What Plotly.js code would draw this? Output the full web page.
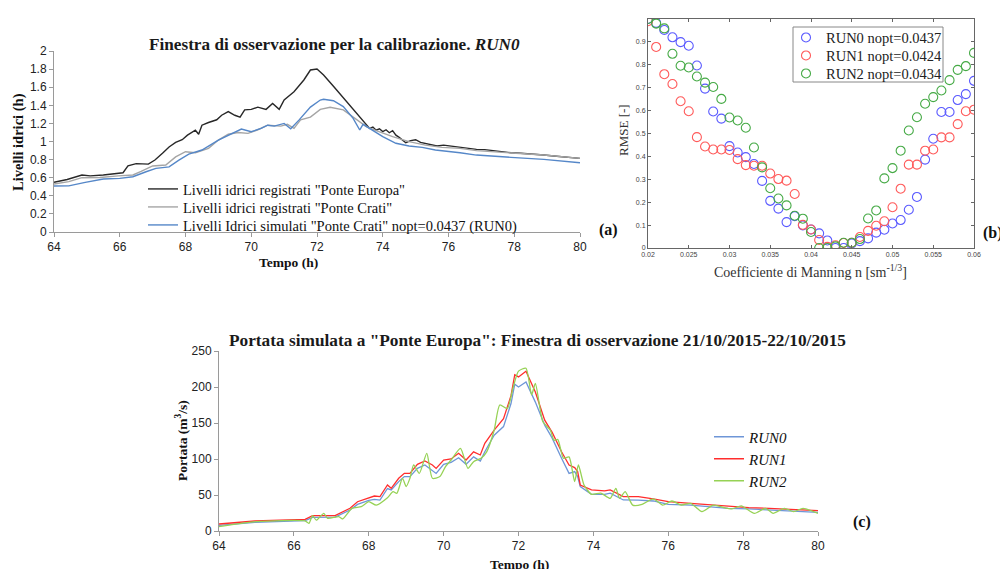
<!DOCTYPE html>
<html>
<head>
<meta charset="utf-8">
<script src="https://cdn.plot.ly/plotly-3.0.1.min.js"></script>
<style>html,body{margin:0;padding:0;background:#fff;}#chart{width:1000px;height:569px;}</style>
</head>
<body>
<div id="chart"></div>
<script>
// ---------- Panel (a): water levels ----------
const europaT = [64, 64.4, 64.85, 65.1, 65.5, 66.0, 66.1, 66.25, 66.5, 66.87, 67.07, 67.3, 67.5, 67.7, 67.9, 68.06, 68.3, 68.4, 68.5, 68.7, 68.95, 69.1, 69.3, 69.5, 69.66, 69.8, 70.0, 70.2, 70.45, 70.65, 70.85, 71.0, 71.3, 71.6, 71.8, 72.0, 72.2, 72.5, 72.8, 73.1, 73.4, 73.6, 73.7, 73.8, 73.9, 74.0, 74.1, 74.2, 74.3, 74.4, 74.5, 74.7, 74.85, 75.0, 75.15, 75.3, 75.5, 75.65, 75.85, 76.05, 76.35, 76.6, 76.85, 77.1, 77.35, 77.6, 77.9, 78.2, 78.4, 78.7, 78.9, 79.2, 79.4, 79.7, 80];
const europaV = [0.55, 0.58, 0.63, 0.62, 0.63, 0.65, 0.655, 0.73, 0.755, 0.75, 0.795, 0.87, 0.94, 0.99, 1.02, 1.07, 1.125, 1.08, 1.18, 1.21, 1.24, 1.29, 1.33, 1.29, 1.27, 1.35, 1.355, 1.38, 1.355, 1.42, 1.355, 1.46, 1.55, 1.68, 1.79, 1.80, 1.735, 1.61, 1.48, 1.35, 1.22, 1.145, 1.16, 1.125, 1.14, 1.11, 1.13, 1.097, 1.12, 1.07, 1.045, 0.987, 1.01, 1.02, 0.99, 0.98, 0.965, 0.95, 0.96, 0.95, 0.935, 0.925, 0.913, 0.91, 0.899, 0.89, 0.876, 0.87, 0.862, 0.855, 0.85, 0.84, 0.833, 0.825, 0.814];
const cratiT = [64, 64.45, 64.85, 65.4, 65.95, 66.4, 66.65, 67.0, 67.4, 67.7, 68.0, 68.3, 68.7, 69.0, 69.3, 69.6, 69.9, 70.2, 70.5, 70.9, 71.1, 71.3, 71.5, 71.8, 72.1, 72.4, 72.8, 73.2, 73.5, 73.8, 74.3, 74.8, 75.3, 75.8, 76.35, 76.85, 77.35, 77.9, 78.9, 80];
const cratiV = [0.53, 0.556, 0.60, 0.603, 0.62, 0.63, 0.67, 0.73, 0.74, 0.83, 0.887, 0.876, 0.924, 1.016, 1.08, 1.10, 1.09, 1.13, 1.18, 1.17, 1.19, 1.145, 1.24, 1.27, 1.355, 1.378, 1.35, 1.24, 1.164, 1.12, 1.053, 0.998, 0.96, 0.935, 0.924, 0.899, 0.887, 0.869, 0.85, 0.814];
const simT = [64, 64.45, 64.95, 65.5, 66.0, 66.4, 66.8, 67.1, 67.5, 67.8, 68.1, 68.5, 69.0, 69.4, 69.7, 70.0, 70.3, 70.5, 70.7, 71.0, 71.2, 71.45, 71.8, 72.1, 72.2, 72.5, 72.8, 73.1, 73.3, 73.4, 73.7, 74.0, 74.4, 74.8, 75.2, 75.6, 76.35, 76.85, 77.9, 78.9, 80];
const simV = [0.508, 0.51, 0.549, 0.585, 0.593, 0.611, 0.666, 0.703, 0.72, 0.795, 0.86, 0.906, 1.016, 1.09, 1.138, 1.108, 1.145, 1.18, 1.17, 1.2, 1.141, 1.236, 1.38, 1.458, 1.466, 1.45, 1.385, 1.256, 1.127, 1.19, 1.12, 1.053, 0.98, 0.95, 0.935, 0.906, 0.876, 0.85, 0.825, 0.803, 0.766];
const levelNames = ['Livelli idrici registrati "Ponte Europa"', 'Livelli idrici registrati "Ponte Crati"', 'Livelli Idrici simulati "Ponte Crati" nopt=0.0437 (RUN0)'];

// ---------- Panel (b): RMSE vs Manning ----------
const manningN = [0.020, 0.021, 0.022, 0.023, 0.024, 0.025, 0.026, 0.027, 0.028, 0.029, 0.030, 0.031, 0.032, 0.033, 0.034, 0.035, 0.036, 0.037, 0.038, 0.039, 0.040, 0.041, 0.042, 0.043, 0.044, 0.045, 0.046, 0.047, 0.048, 0.049, 0.050, 0.051, 0.052, 0.053, 0.054, 0.055, 0.056, 0.057, 0.058, 0.059, 0.060];
const rmseRun0 = [1.0, 0.983, 0.952, 0.92, 0.899, 0.883, 0.797, 0.696, 0.596, 0.565, 0.445, 0.417, 0.397, 0.367, 0.293, 0.206, 0.172, 0.113, 0.139, 0.099, 0.081, 0.064, 0.033, 0.0, 0.0, 0.02, 0.03, 0.042, 0.067, 0.08, 0.107, 0.122, 0.167, 0.223, 0.386, 0.477, 0.594, 0.594, 0.646, 0.672, 0.730];
const rmseRun1 = [0.99, 0.878, 0.759, 0.716, 0.641, 0.597, 0.484, 0.443, 0.430, 0.430, 0.428, 0.388, 0.362, 0.359, 0.359, 0.325, 0.301, 0.294, 0.236, 0.101, 0.081, 0.035, 0.005, 0.012, 0.022, 0.023, 0.048, 0.075, 0.097, 0.117, 0.178, 0.259, 0.364, 0.364, 0.425, 0.430, 0.483, 0.483, 0.541, 0.597, 0.604];
const rmseRun2 = [1.0, 0.98, 0.959, 0.848, 0.796, 0.788, 0.749, 0.722, 0.703, 0.651, 0.570, 0.557, 0.525, 0.439, 0.352, 0.261, 0.216, 0.186, 0.141, 0.128, 0.070, 0.0, 0.0, 0.007, 0.023, 0.023, 0.039, 0.129, 0.164, 0.304, 0.349, 0.425, 0.513, 0.571, 0.630, 0.659, 0.688, 0.733, 0.778, 0.794, 0.852];
const rmseNames = ["RUN0 nopt=0.0437", "RUN1 nopt=0.0424", "RUN2 nopt=0.0434"];

// ---------- Panel (c): simulated discharge ----------
const qT = [64, 64.96, 66.3, 66.5, 67.1, 67.5, 67.7, 68.0, 68.15, 68.3, 68.5, 68.6, 68.8, 68.95, 69.1, 69.3, 69.5, 69.7, 69.8, 70.0, 70.2, 70.4, 70.6, 70.8, 70.98, 71.1, 71.35, 71.6, 71.8, 71.9, 72.0, 72.2, 72.45, 72.7, 72.9, 73.15, 73.35, 73.5, 73.58, 73.65, 73.95, 74.3, 74.45, 74.8, 75.2, 75.6, 76.0, 76.6, 77.2, 77.6, 78.15, 78.7, 79.2, 80];
const qRun1 = [9.7, 13.9, 16.2, 21.3, 21.3, 31.5, 40.7, 45.4, 48.6, 47.7, 63.9, 59.3, 73.2, 80.1, 80, 92.6, 97.2, 91.7, 87, 98.6, 100, 107.9, 98.6, 110, 105.6, 121.7, 140, 156, 188, 217, 214, 222, 193, 154, 137, 110, 91.7, 88, 82.5, 63.9, 57, 55.6, 57, 47.7, 47.7, 44.5, 40.7, 38.4, 36.1, 33.8, 32.4, 31.5, 30.6, 28.2];
const qRun0 = [7.9, 12, 14.4, 19, 19.4, 29.2, 37, 42.6, 44, 43, 59, 57, 68.6, 75.6, 75.6, 87.1, 91.7, 83.3, 80, 92.5, 95.4, 101.7, 92.6, 103, 97.2, 110, 133, 145, 177, 204, 200, 207, 179, 147, 129, 101, 80, 82.5, 75.6, 61.7, 51, 51, 52.6, 43.1, 43, 41.7, 37, 36, 33.8, 31.5, 30.6, 29.2, 28.3, 26];
const qRun2T = [64, 65, 66.3, 66.4, 66.5, 66.6, 66.8, 66.9, 67.2, 67.3, 67.55, 67.8, 68.0, 68.2, 68.5, 68.65, 68.75, 68.9, 69.0, 69.1, 69.2, 69.35, 69.55, 69.7, 69.9, 70.05, 70.2, 70.45, 70.65, 70.8, 71.0, 71.15, 71.35, 71.5, 71.7, 71.85, 72.0, 72.2, 72.35, 72.45, 72.65, 72.85, 72.95, 73.05, 73.2, 73.35, 73.5, 73.6, 73.75, 73.95, 74.2, 74.45, 74.6, 74.7, 74.85, 75.05, 75.3, 75.6, 75.85, 76.1, 76.35, 76.6, 76.9, 77.2, 77.4, 77.7, 77.95, 78.3, 78.6, 78.8, 79.1, 79.35, 79.6, 80];
const qRun2 = [6.0, 13, 13.9, 10.6, 21.3, 15, 24.5, 17.6, 20, 16.7, 31.5, 33.8, 40.7, 36, 46.3, 54.6, 52.3, 73.2, 61.7, 73.2, 91.7, 80, 107.9, 73.2, 75.6, 89.4, 98.6, 114.8, 87, 96.3, 101, 110, 140, 175, 170, 198, 222, 226, 189, 205, 152, 140, 126, 127, 101, 103, 68.7, 91.7, 63.9, 51, 52.6, 45.4, 59.3, 45.4, 54.6, 36, 37, 44.5, 36, 41.7, 36, 38.4, 26.8, 36, 33.8, 30.6, 35, 24.5, 31.5, 24.5, 31.5, 27, 31.5, 24.5];
const runNames = ['<i>RUN0</i>', '<i>RUN1</i>', '<i>RUN2</i>'];

const SERIF = '"Liberation Serif", "Times New Roman", serif';
const SANS = '"Liberation Sans", Arial, sans-serif';
const W = 1000, H = 569;
const px = v => v / W;
const py = v => 1 - v / H;

const traces = [
  {x: europaT, y: europaV, xaxis: 'x', yaxis: 'y', mode: 'lines', name: levelNames[0],
   line: {color: 'rgb(40,40,40)', width: 1.4}, legend: 'legend'},
  {x: cratiT, y: cratiV, xaxis: 'x', yaxis: 'y', mode: 'lines', name: levelNames[1],
   line: {color: 'rgb(165,165,165)', width: 1.4}, legend: 'legend4'},
  {x: simT, y: simV, xaxis: 'x', yaxis: 'y', mode: 'lines', name: levelNames[2],
   line: {color: 'rgb(85,135,200)', width: 1.4}, legend: 'legend5'},

  {x: manningN, y: rmseRun0, xaxis: 'x2', yaxis: 'y2', mode: 'markers', name: rmseNames[0],
   marker: {symbol: 'circle-open', size: 9, color: 'rgb(90,90,255)', line: {width: 1.1}}, legend: 'legend2'},
  {x: manningN, y: rmseRun1, xaxis: 'x2', yaxis: 'y2', mode: 'markers', name: rmseNames[1],
   marker: {symbol: 'circle-open', size: 9, color: 'rgb(255,90,90)', line: {width: 1.1}}, legend: 'legend8'},
  {x: manningN, y: rmseRun2, xaxis: 'x2', yaxis: 'y2', mode: 'markers', name: rmseNames[2],
   marker: {symbol: 'circle-open', size: 9, color: 'rgb(70,170,70)', line: {width: 1.1}}, legend: 'legend9'},

  {x: qT, y: qRun0, xaxis: 'x3', yaxis: 'y3', mode: 'lines', name: runNames[0],
   line: {color: 'rgb(110,150,215)', width: 1.3}, legend: 'legend3'},
  {x: qT, y: qRun1, xaxis: 'x3', yaxis: 'y3', mode: 'lines', name: runNames[1],
   line: {color: 'rgb(255,45,45)', width: 1.3}, legend: 'legend6'},
  {x: qRun2T, y: qRun2, xaxis: 'x3', yaxis: 'y3', mode: 'lines', name: runNames[2],
   line: {color: 'rgb(150,210,85)', width: 1.3, shape: 'spline', smoothing: 0.6}, legend: 'legend7'}
];

const excelAxis = {showline: true, linecolor: '#9a9a9a', linewidth: 1, ticks: 'outside', ticklen: 4,
  tickcolor: '#9a9a9a', showgrid: false, zeroline: false, tickfont: {family: SANS, size: 12, color: '#222'}};

const ann = (text, x, y, opts) => Object.assign({text, x: px(x), y: py(y), xref: 'paper', yref: 'paper',
  showarrow: false, xanchor: 'center', yanchor: 'middle', font: {family: SERIF, size: 14, color: '#111'}}, opts || {});

const legAt = (xl, yc, size, color) => ({x: px(xl), y: py(yc), xanchor: 'left', yanchor: 'middle', bgcolor: 'rgba(0,0,0,0)',
  font: {family: SERIF, size: size, color: color}});

const layout = {
  width: W, height: H, margin: {l: 0, r: 0, t: 0, b: 0},
  paper_bgcolor: '#fff', plot_bgcolor: '#fff', showlegend: true,
  xaxis: Object.assign({}, excelAxis, {domain: [px(54), px(580)], anchor: 'y', range: [64, 80], dtick: 2}),
  yaxis: Object.assign({}, excelAxis, {domain: [py(232), py(51)], anchor: 'x', range: [0, 2], dtick: 0.2}),
  xaxis2: {domain: [px(648), px(974)], anchor: 'y2', range: [0.02, 0.06], dtick: 0.005, showline: true, mirror: 'ticks',
    linecolor: '#666', ticks: 'inside', ticklen: 3, tickcolor: '#666', showgrid: false, zeroline: false,
    tickfont: {family: SANS, size: 7, color: '#444'}},
  yaxis2: {domain: [py(248), py(19)], anchor: 'x2', range: [0, 1], tickvals: [0, 0.1, 0.2, 0.3, 0.4, 0.5, 0.6, 0.7, 0.8, 0.9],
    showline: true, mirror: 'ticks', linecolor: '#666', ticks: 'inside', ticklen: 3, tickcolor: '#666', showgrid: false,
    zeroline: false, tickfont: {family: SANS, size: 7, color: '#444'}},
  xaxis3: Object.assign({}, excelAxis, {domain: [px(219), px(818)], anchor: 'y3', range: [64, 80], dtick: 2}),
  yaxis3: Object.assign({}, excelAxis, {domain: [py(531), py(351)], anchor: 'x3', range: [0, 250], dtick: 50}),
  legend: legAt(143, 189, 14.5, '#111'),
  legend4: legAt(143, 207, 14.5, '#111'),
  legend5: legAt(143, 225, 14.5, '#111'),
  legend2: legAt(786, 37.5, 14.5, '#222'),
  legend8: legAt(786, 55.5, 14.5, '#222'),
  legend9: legAt(786, 73.5, 14.5, '#222'),
  legend3: legAt(709, 437, 15, '#111'),
  legend6: legAt(709, 459, 15, '#111'),
  legend7: legAt(709, 481, 15, '#111'),
  shapes: [
    {type: 'rect', xref: 'paper', yref: 'paper', x0: px(793), x1: px(943), y0: py(82), y1: py(27),
     line: {color: '#888', width: 1}, fillcolor: '#fff', layer: 'below'}
  ],
  annotations: [
    ann('<b>Finestra di osservazione per la calibrazione. <i>RUN0</i></b>', 334, 44, {font: {family: SERIF, size: 17.2, color: '#1a1a1a'}}),
    ann('<b>Livelli idrici (h)</b>', 18, 142, {textangle: -90, font: {family: SERIF, size: 14.5, color: '#111'}}),
    ann('<b>Tempo (h)</b>', 288, 262, {font: {family: SERIF, size: 13.5, color: '#111'}}),
    ann('<b>(a)</b>', 608, 230, {font: {family: SERIF, size: 16, color: '#111'}}),
    ann('RMSE [-]', 623, 130, {textangle: -90, font: {family: SERIF, size: 13, color: '#333'}}),
    ann('Coefficiente di Manning n [sm<sup>-1/3</sup>]', 810, 271, {font: {family: SERIF, size: 14, color: '#333'}}),
    ann('<b>(b)</b>', 993, 233, {font: {family: SERIF, size: 16, color: '#111'}}),
    ann('<b>Portata simulata a "Ponte Europa": Finestra di osservazione 21/10/2015-22/10/2015</b>', 537, 340, {font: {family: SERIF, size: 17.3, color: '#1a1a1a'}}),
    ann('<b>Portata (m<sup>3</sup>/s)</b>', 181, 441, {textangle: -90, font: {family: SERIF, size: 13.5, color: '#111'}}),
    ann('<b>Tempo (h)</b>', 519, 564, {font: {family: SERIF, size: 13.5, color: '#111'}}),
    ann('<b>(c)</b>', 862, 522, {font: {family: SERIF, size: 16, color: '#111'}})
  ]
};

Plotly.newPlot('chart', traces, layout, {displayModeBar: false, staticPlot: true});
</script>
</body>
</html>
